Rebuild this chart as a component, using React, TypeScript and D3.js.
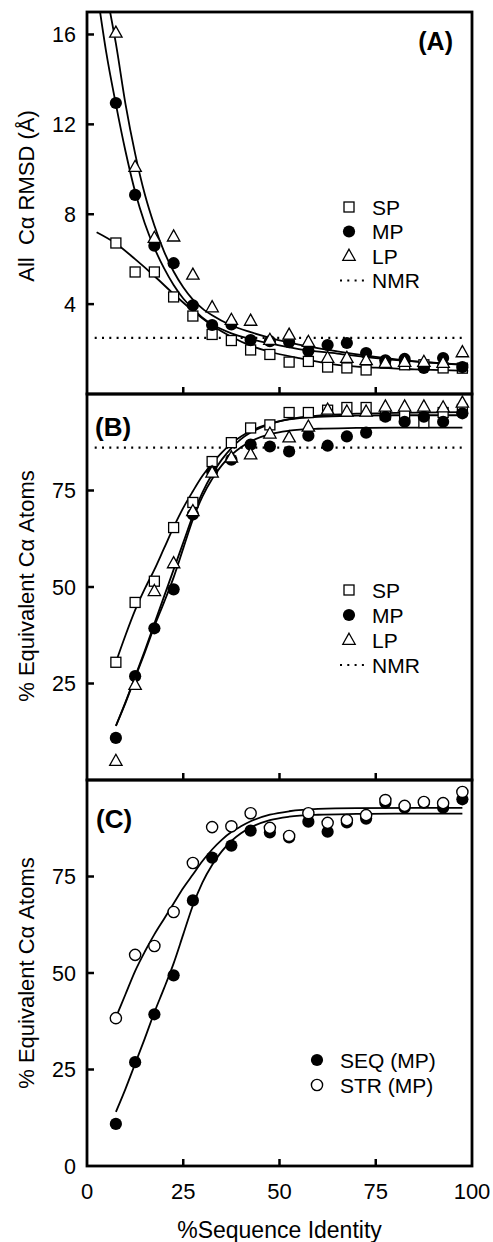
import React from 'react';
import * as d3 from 'd3';

// ---------- data ----------
const identity = [7.5, 12.5, 17.5, 22.5, 27.5, 32.5, 37.5, 42.5, 47.5, 52.5, 57.5, 62.5, 67.5, 72.5, 77.5, 82.5, 87.5, 92.5, 97.5];

// Panel A: all C-alpha RMSD (Å)
const rmsdSP = [6.72, 5.43, 5.43, 4.32, 3.47, 2.65, 2.38, 1.96, 1.76, 1.42, 1.45, 1.2, 1.16, 1.07, 1.38, 1.3, 1.3, 1.16, 1.15];
const rmsdMP = [12.95, 8.86, 6.6, 5.82, 3.95, 3.07, 3.1, 2.4, 2.35, 2.31, 1.92, 2.18, 2.27, 1.82, 1.5, 1.56, 1.16, 1.6, 1.2];
const rmsdLP = [16.07, 10.1, 6.94, 7.0, 5.3, 3.85, 3.29, 3.25, 2.4, 2.63, 2.31, 1.6, 1.6, 1.5, 1.38, 1.42, 1.42, 1.38, 1.85];
const rmsdNMR = 2.5;

// Panel B: % equivalent C-alpha atoms
const eqSP = [30.5, 46, 51.5, 65.4, 71.9, 82.5, 87.4, 91.2, 92, 95.2, 95.2, 95.8, 96.5, 96.5, 94.6, 94.5, 92.6, 95.2, 96];
const eqMP = [10.9, 26.9, 39.3, 49.4, 68.8, 79.9, 83, 86.9, 86.4, 85.1, 89.2, 86.6, 89, 90, 94.1, 92.8, 94.1, 92.8, 95];
const eqLP = [4.9, 24.6, 48.9, 56.1, 69.6, 79.6, 83.5, 84.3, 89.7, 88.7, 91.5, 95.9, 95.4, 95.4, 96.7, 96.7, 96.7, 96.5, 97.7];
const eqNMR = 86.1;

// Panel C
const seqMP = eqMP;
const strMP = [38.3, 54.7, 57, 65.8, 78.5, 87.8, 88, 91.4, 87.6, 85.5, 91.4, 88.9, 89.6, 90.9, 94.8, 93.3, 94.3, 94, 96.9];

// fitted curves
const fitA_SP: [number, number][] = [[2.5, 7.2], [7.5, 6.7], [12.5, 6.0], [17.5, 5.25], [22.5, 4.45], [27.5, 3.7], [32.5, 3.05], [37.5, 2.55], [42.5, 2.15], [47.5, 1.88], [55, 1.6], [65, 1.3], [75, 1.17], [85, 1.1], [99, 1.03]];
const fitA_MP: [number, number][] = [[3.4, 17], [5, 15.2], [7.5, 12.9], [10, 10.8], [12.5, 9.0], [15, 7.6], [17.5, 6.5], [20, 5.6], [22.5, 4.85], [25, 4.25], [27.5, 3.8], [30, 3.4], [32.5, 3.1], [37.5, 2.7], [42.5, 2.45], [47.5, 2.25], [55, 2.0], [65, 1.8], [75, 1.6], [85, 1.45], [99, 1.3]];
const fitA_LP: [number, number][] = [[6, 17], [7.5, 15.6], [10, 12.9], [12.5, 10.7], [15, 8.9], [17.5, 7.5], [20, 6.35], [22.5, 5.45], [25, 4.75], [27.5, 4.2], [30, 3.8], [32.5, 3.5], [37.5, 3.05], [42.5, 2.75], [47.5, 2.5], [55, 2.2], [65, 1.9], [75, 1.65], [85, 1.45], [99, 1.28]];

const fitB_SP: [number, number][] = [[7.5, 30.5], [10, 37.5], [12.5, 44], [15, 49.5], [17.5, 54.5], [20, 60], [22.5, 65.5], [25, 70.5], [27.5, 74.8], [30, 78.8], [32.5, 82], [35, 84.8], [37.5, 87.2], [40, 89], [42.5, 90.4], [47.5, 92.3], [52.5, 93.5], [60, 94.4], [70, 94.9], [80, 95.1], [97.5, 95.3]];
const fitB_MP: [number, number][] = [[7.5, 14], [10, 20], [12.5, 26.5], [15, 33], [17.5, 39.8], [20, 46], [22.5, 52.5], [25, 60], [27.5, 67.5], [30, 73.5], [32.5, 78], [35, 81.5], [37.5, 84.2], [40, 86.2], [42.5, 87.7], [47.5, 89.6], [52.5, 90.5], [60, 91], [70, 91.2], [80, 91.3], [97.5, 91.3]];
const fitB_LP: [number, number][] = [[7.5, 14], [10, 20.2], [12.5, 26.8], [15, 33.5], [17.5, 40.5], [20, 47.5], [22.5, 54.5], [25, 61.5], [27.5, 68.5], [30, 74.5], [32.5, 79.2], [35, 83], [37.5, 86], [40, 88.3], [42.5, 90], [47.5, 92.2], [52.5, 93.4], [60, 94.1], [70, 94.4], [80, 94.5], [97.5, 94.5]];

const fitC_SEQ = fitB_MP;
const fitC_STR: [number, number][] = [[7.5, 38.5], [10, 44.5], [12.5, 50.5], [15, 55.5], [17.5, 60], [20, 64], [22.5, 68], [25, 72], [27.5, 75.5], [30, 79], [32.5, 82], [35, 84.5], [37.5, 86.5], [40, 88], [42.5, 89.3], [47.5, 91], [52.5, 91.9], [60, 92.5], [70, 92.7], [97.5, 92.8]];

const xTickVals = [0, 25, 50, 75, 100];
const yTicksA = [4, 8, 12, 16];
const yTicksB = [25, 50, 75];
const yTicksC = [0, 25, 50, 75];

// ---------- layout ----------
const W = 493, H = 1242;
const FONT = 'Liberation Sans, Arial, Helvetica, sans-serif';
const x = d3.scaleLinear().domain([0, 100]).range([87, 472]);
const yA = d3.scaleLinear().domain([0, 17]).range([394, 12]);
const yB = d3.scaleLinear().domain([0, 100]).range([780, 394]);
const yC = d3.scaleLinear().domain([0, 100]).range([1166, 780]);

type MType = 'square' | 'filled' | 'triangle' | 'open';

function Marker({ type, cx, cy }: { type: MType; cx: number; cy: number }) {
  if (type === 'square')
    return <rect x={cx - 5} y={cy - 5} width={10} height={10} fill="#fff" stroke="#000" strokeWidth={1.3} />;
  if (type === 'filled') return <circle cx={cx} cy={cy} r={6.1} fill="#000" />;
  if (type === 'open') return <circle cx={cx} cy={cy} r={5.6} fill="#fff" stroke="#000" strokeWidth={1.4} />;
  return (
    <path
      d={`M${cx},${cy - 6.8}L${cx + 6.2},${cy + 4.3}L${cx - 6.2},${cy + 4.3}Z`}
      fill="#fff"
      stroke="#000"
      strokeWidth={1.3}
    />
  );
}

function Series({ vals, y, type }: { vals: number[]; y: d3.ScaleLinear<number, number>; type: MType }) {
  return (
    <g>
      {vals.map((v, i) => (
        <Marker key={i} type={type} cx={x(identity[i])} cy={y(v)} />
      ))}
    </g>
  );
}

function Fit({ pts, y, clip }: { pts: [number, number][]; y: d3.ScaleLinear<number, number>; clip?: string }) {
  const line = d3
    .line<[number, number]>()
    .x((d) => x(d[0]))
    .y((d) => y(d[1]))
    .curve(d3.curveMonotoneX);
  return <path d={line(pts) || ''} fill="none" stroke="#000" strokeWidth={1.8} clipPath={clip} />;
}

function Panel({ y, yTicks }: { y: d3.ScaleLinear<number, number>; yTicks: number[] }) {
  const [b, t] = y.range();
  return (
    <g>
      {xTickVals
        .filter((v) => v > 0 && v < 100)
        .map((v) => (
          <line key={'x' + v} x1={x(v)} x2={x(v)} y1={b} y2={b - 7} stroke="#000" strokeWidth={2.5} />
        ))}
      {yTicks.map((v) => (
        <g key={'y' + v}>
          {v > 0 && <line x1={x(0)} x2={x(0) + 7} y1={y(v)} y2={y(v)} stroke="#000" strokeWidth={2.5} />}
          <text x={76} y={y(v)} dy="0.36em" textAnchor="end" fontSize={21.5} fontFamily={FONT}>
            {v}
          </text>
        </g>
      ))}
      <rect x={x(0)} y={t} width={x(100) - x(0)} height={b - t} fill="none" stroke="#000" strokeWidth={2.8} />
    </g>
  );
}

function Legend({ items, mx, tx, y0, step }: { items: { type: MType | 'dot'; label: string }[]; mx: number; tx: number; y0: number; step: number }) {
  return (
    <g>
      {items.map((it, i) => {
        const cy = y0 + i * step;
        return (
          <g key={it.label}>
            {it.type === 'dot' ? (
              <line x1={mx - 9} x2={mx + 18} y1={cy} y2={cy} stroke="#000" strokeWidth={2.2} strokeDasharray="2,5.3" />
            ) : (
              <Marker type={it.type} cx={mx} cy={cy} />
            )}
            <text x={tx} y={cy} dy="0.36em" fontSize={21} fontFamily={FONT}>
              {it.label}
            </text>
          </g>
        );
      })}
    </g>
  );
}

export default function App() {
  const legendABItems: { type: MType | 'dot'; label: string }[] = [
    { type: 'square', label: 'SP' },
    { type: 'filled', label: 'MP' },
    { type: 'triangle', label: 'LP' },
    { type: 'dot', label: 'NMR' },
  ];
  return (
    <svg width={W} height={H} style={{ position: 'absolute', left: 0, top: 0, background: '#fff' }}>
      <defs>
        <clipPath id="clipA">
          <rect x={x(0)} y={yA(17)} width={x(100) - x(0)} height={yA(0) - yA(17)} />
        </clipPath>
      </defs>
      <rect x={0} y={0} width={W} height={H} fill="#fff" />

      {/* Panel A */}
      <line x1={x(2)} x2={x(98)} y1={yA(rmsdNMR)} y2={yA(rmsdNMR)} stroke="#000" strokeWidth={2.2} strokeDasharray="2,5.3" />
      <Fit pts={fitA_SP} y={yA} clip="url(#clipA)" />
      <Fit pts={fitA_MP} y={yA} clip="url(#clipA)" />
      <Fit pts={fitA_LP} y={yA} clip="url(#clipA)" />
      <Series vals={rmsdSP} y={yA} type="square" />
      <Series vals={rmsdMP} y={yA} type="filled" />
      <Series vals={rmsdLP} y={yA} type="triangle" />
      <Panel y={yA} yTicks={yTicksA} />
      <text x={453} y={50} textAnchor="end" fontSize={25} fontWeight="bold" fontFamily={FONT}>(A)</text>
      <Legend items={legendABItems} mx={349} tx={372} y0={207} step={24.5} />

      {/* Panel B */}
      <line x1={x(2)} x2={x(98)} y1={yB(eqNMR)} y2={yB(eqNMR)} stroke="#000" strokeWidth={2.2} strokeDasharray="2,5.3" />
      <Fit pts={fitB_SP} y={yB} />
      <Fit pts={fitB_MP} y={yB} />
      <Fit pts={fitB_LP} y={yB} />
      <Series vals={eqSP} y={yB} type="square" />
      <Series vals={eqMP} y={yB} type="filled" />
      <Series vals={eqLP} y={yB} type="triangle" />
      <Panel y={yB} yTicks={yTicksB} />
      <text x={95} y={436} fontSize={26} fontWeight="bold" fontFamily={FONT}>(B)</text>
      <Legend items={legendABItems} mx={349} tx={372} y0={590} step={25} />

      {/* Panel C */}
      <Fit pts={fitC_SEQ} y={yC} />
      <Fit pts={fitC_STR} y={yC} />
      <Series vals={seqMP} y={yC} type="filled" />
      <Series vals={strMP} y={yC} type="open" />
      <Panel y={yC} yTicks={yTicksC} />
      <text x={96} y={828} fontSize={26} fontWeight="bold" fontFamily={FONT}>(C)</text>
      <Legend
        items={[
          { type: 'filled', label: 'SEQ (MP)' },
          { type: 'open', label: 'STR (MP)' },
        ]}
        mx={317}
        tx={340}
        y0={1060}
        step={25}
      />

      {/* X axis labels */}
      {xTickVals.map((v) => (
        <text key={v} x={x(v)} y={1199} textAnchor="middle" fontSize={22} fontFamily={FONT}>
          {v}
        </text>
      ))}
      <text x={x(50)} y={1238} textAnchor="middle" fontSize={23} fontFamily={FONT}>%Sequence Identity</text>

      {/* Y axis titles */}
      <text transform="translate(33.5,196) rotate(-90)" textAnchor="middle" fontSize={22} fontFamily={FONT} style={{ whiteSpace: 'pre' }}>
        {'All  Cα RMSD (Å)'}
      </text>
      <text transform="translate(33.5,586) rotate(-90)" textAnchor="middle" fontSize={22} fontFamily={FONT}>
        % Equivalent Cα Atoms
      </text>
      <text transform="translate(33.5,973) rotate(-90)" textAnchor="middle" fontSize={22} fontFamily={FONT}>
        % Equivalent Cα Atoms
      </text>
    </svg>
  );
}
